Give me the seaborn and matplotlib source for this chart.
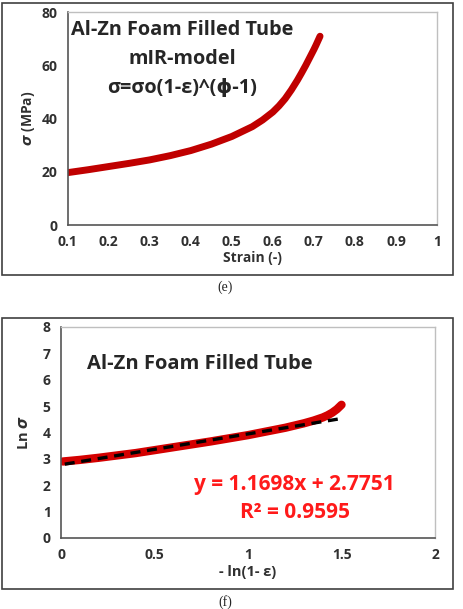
import pandas as pd
import seaborn as sns
from matplotlib import pyplot as plt
from matplotlib.patches import Rectangle

# panel (e): stress vs strain, mIR-model
strain = [0.10, 0.15, 0.20, 0.25, 0.30, 0.35, 0.40, 0.45, 0.50, 0.55,
          0.575, 0.60, 0.615, 0.63, 0.645, 0.66, 0.67, 0.68, 0.69, 0.70,
          0.705, 0.715]
stress = [19.7, 20.8, 22.0, 23.2, 24.5, 26.1, 28.0, 30.4, 33.3, 37.0,
          39.5, 42.5, 44.8, 47.5, 50.8, 54.5, 57.2, 60.0, 63.0, 66.0,
          67.6, 71.0]

# panel (f): ln(stress) vs -ln(1-strain), with linear trendline
log_strain = [0.01, 0.1, 0.2, 0.3, 0.4, 0.5, 0.6, 0.7, 0.8, 0.9, 1.0,
              1.1, 1.2, 1.3, 1.35, 1.4, 1.425, 1.45, 1.475, 1.5]
log_stress = [2.90, 2.96, 3.04, 3.13, 3.22, 3.33, 3.44, 3.55, 3.66, 3.78,
              3.90, 4.04, 4.18, 4.35, 4.45, 4.57, 4.65, 4.75, 4.88, 5.05]
trend_x = [0.02, 1.5]
trend_y = [2.80, 4.53]

sns.set_theme(style='white')
plt.rcParams['font.family'] = ['Open Sans', 'DejaVu Sans']
plt.rcParams['font.weight'] = 'bold'

df_e = pd.DataFrame({'strain': strain, 'stress': stress})
df_f = pd.DataFrame({'x': log_strain, 'y': log_stress})
df_t = pd.DataFrame({'x': trend_x, 'y': trend_y})

fig = plt.figure(figsize=(4.63, 6.09), dpi=100)

# outer frames
for y0, h in [(0.5484, 0.4466), (0.0328, 0.4450)]:
    fig.patches.append(Rectangle((0.0043, y0), 0.9741, h, transform=fig.transFigure,
                                 fill=False, edgecolor='#404040', lw=1.2))


def style_axes(ax):
    for s in ['left', 'bottom']:
        ax.spines[s].set_color('#555555')
        ax.spines[s].set_linewidth(1.2)
    for s in ['top', 'right']:
        ax.spines[s].set_color('#bfbfbf')
        ax.spines[s].set_linewidth(1.0)
    ax.tick_params(axis='both', direction='inout', length=5, width=1,
                   color='#555555', labelsize=10, labelcolor='#303030', pad=5)
    for lab in ax.get_xticklabels() + ax.get_yticklabels():
        lab.set_fontweight('bold')


# ---- (e)
ax1 = fig.add_axes([0.1462, 0.6305, 0.7976, 0.3493])
sns.lineplot(data=df_e, x='strain', y='stress', ax=ax1, color='#c00000', lw=5)
ax1.set_xlim(0.1, 1)
ax1.set_ylim(0, 80)
ax1.set_xticks([0.1, 0.2, 0.3, 0.4, 0.5, 0.6, 0.7, 0.8, 0.9, 1])
ax1.set_xticklabels(['0.1', '0.2', '0.3', '0.4', '0.5', '0.6', '0.7', '0.8', '0.9', '1'])
ax1.set_yticks([0, 20, 40, 60, 80])
ax1.set_xlabel('Strain (-)', fontsize=10, fontweight='bold', color='#303030', labelpad=1)
ax1.set_ylabel('$\\sigma$ (MPa)', fontsize=10, fontweight='bold', color='#303030', labelpad=3)
style_axes(ax1)
ax1.text(0.31, 0.915, 'Al-Zn Foam Filled Tube', transform=ax1.transAxes,
         ha='center', va='center', fontsize=14.3, fontweight='bold')
ax1.text(0.31, 0.78, 'mIR-model', transform=ax1.transAxes,
         ha='center', va='center', fontsize=14.3, fontweight='bold')
ax1.text(0.31, 0.645, 'σ=σo(1-ε)^(ϕ-1)', transform=ax1.transAxes,
         ha='center', va='center', fontsize=14.3, fontweight='bold')
fig.text(0.486, 0.528, '(e)', ha='center', va='center', fontsize=10,
         family='Liberation Serif', fontweight='normal')

# ---- (f)
ax2 = fig.add_axes([0.1318, 0.1166, 0.8078, 0.3465])
sns.lineplot(data=df_f, x='x', y='y', ax=ax2, color='#d40000', lw=6)
sns.lineplot(data=df_t, x='x', y='y', ax=ax2, color='black', lw=2.4,
             dashes=False, linestyle=(0, (3, 2)))
ax2.set_xlim(0, 2)
ax2.set_ylim(0, 8)
ax2.set_xticks([0, 0.5, 1, 1.5, 2])
ax2.set_xticklabels(['0', '0.5', '1', '1.5', '2'])
ax2.set_yticks(range(9))
ax2.set_xlabel('- ln(1- ε)', fontsize=10.5, fontweight='bold', color='#303030', labelpad=2)
ax2.set_ylabel('Ln $\\sigma$', fontsize=10.5, fontweight='bold', color='#303030', labelpad=8)
style_axes(ax2)
ax2.text(0.37, 0.825, 'Al-Zn Foam Filled Tube', transform=ax2.transAxes,
         ha='center', va='center', fontsize=14.5, fontweight='bold')
ax2.text(0.625, 0.254, 'y = 1.1698x + 2.7751', transform=ax2.transAxes,
         ha='center', va='center', fontsize=15, fontweight='bold', color='#ff1a1a')
ax2.text(0.625, 0.123, 'R² = 0.9595', transform=ax2.transAxes,
         ha='center', va='center', fontsize=15, fontweight='bold', color='#ff1a1a')
fig.text(0.486, 0.012, '(f)', ha='center', va='center', fontsize=10,
         family='Liberation Serif', fontweight='normal')

fig.savefig('out.png', dpi=100)
